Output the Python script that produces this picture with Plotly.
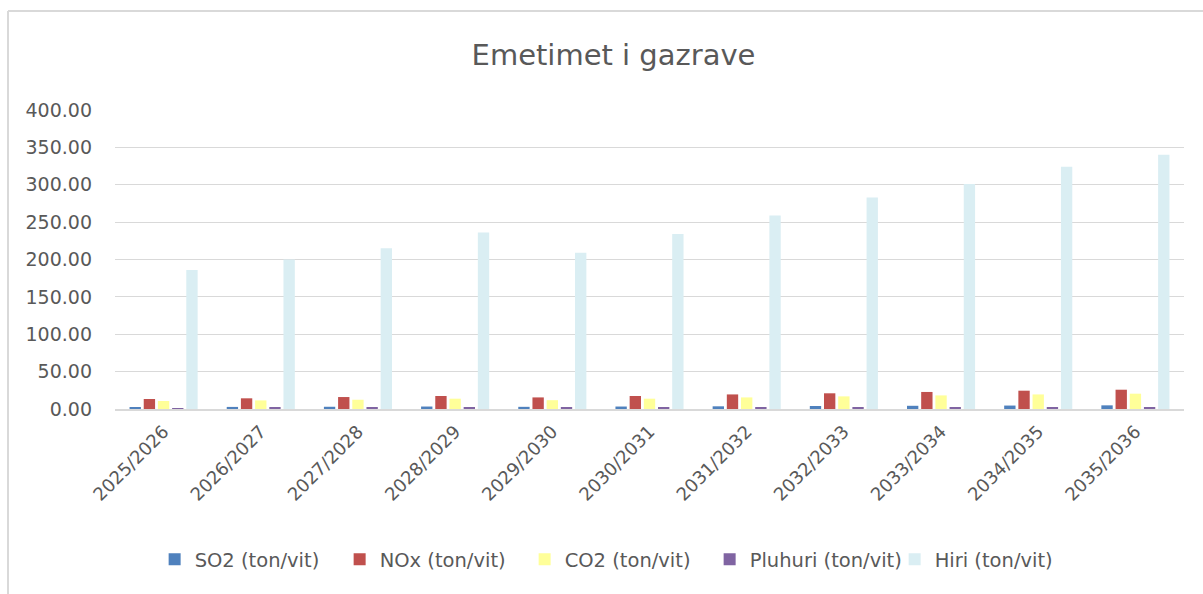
import plotly.graph_objects as go

categories = ["2025/2026", "2026/2027", "2027/2028", "2028/2029", "2029/2030", "2030/2031",
              "2031/2032", "2032/2033", "2033/2034", "2034/2035", "2035/2036"]
so2 = [2.6, 2.8, 3.0, 3.3, 2.9, 3.3, 3.6, 4.0, 4.3, 4.6, 4.9]
nox = [13.4, 14.3, 16.0, 17.4, 15.5, 17.4, 19.5, 21.0, 22.8, 24.5, 25.8]
co2 = [10.7, 11.5, 12.4, 13.8, 11.8, 13.8, 15.5, 16.9, 18.2, 19.5, 20.5]
pluhuri = [1.3, 1.4, 1.5, 1.7, 1.5, 1.7, 1.9, 2.0, 2.2, 2.4, 2.5]
hiri = [186, 200, 215, 236, 209, 234, 259, 283, 301, 324, 340]

series = [
    ("SO2 (ton/vit)", so2, "#4F81BD"),
    ("NOx (ton/vit)", nox, "#C0504D"),
    ("CO2 (ton/vit)", co2, "#FFFF99"),
    ("Pluhuri (ton/vit)", pluhuri, "#8064A2"),
    ("Hiri (ton/vit)", hiri, "#DAEEF3"),
]

FONT = "DejaVu Sans"
TXT = "#595959"

fig = go.Figure()
for name, vals, col in series:
    fig.add_trace(go.Bar(x=categories, y=vals, name=name, marker=dict(color=col, line=dict(width=0))))

fig.update_layout(
    width=1203, height=594,
    margin=dict(l=115, r=19, t=110, b=185),
    paper_bgcolor="white", plot_bgcolor="white",
    barmode="group", bargap=0.27, bargroupgap=0.2,
    font=dict(family=FONT, size=19, color=TXT),
    title=dict(text="Emetimet i gazrave", x=0.51, xanchor="center", y=0.907, yanchor="middle",
               font=dict(family=FONT, size=29, color=TXT)),
    legend=dict(orientation="h", xref="container", yref="container", x=0.513, xanchor="center",
                y=0.058, yanchor="middle", font=dict(family=FONT, size=19.5, color=TXT),
                itemwidth=30, entrywidth=140, entrywidthmode="pixels"),
    yaxis=dict(range=[0, 400], dtick=50, tickformat=".2f", gridcolor="#D9D9D9", gridwidth=1,
               showline=False, zeroline=False, ticks="", ticklabelstandoff=22,
               tickfont=dict(family=FONT, size=19, color=TXT)),
    xaxis=dict(showline=True, linecolor="#D9D9D9", linewidth=2, ticks="", tickangle=-45,
               ticklabelstandoff=3, tickfont=dict(family=FONT, size=18, color=TXT)),
    shapes=[
        dict(type="line", xref="paper", yref="paper", x0=-0.1001, x1=1.05, y0=1.331, y1=1.331,
             line=dict(color="#D9D9D9", width=2)),
        dict(type="line", xref="paper", yref="paper", x0=-0.1001, x1=-0.1001, y0=1.331, y1=-0.7,
             line=dict(color="#D9D9D9", width=2)),
    ],
)

fig.write_html("out.html", config={"displayModeBar": False})

with open("out.html", "r", encoding="utf-8") as f:
    html = f.read()
html = html.replace("<body>", '<body style="margin:0;padding:0;overflow:hidden">', 1)
with open("out.html", "w", encoding="utf-8") as f:
    f.write(html)
